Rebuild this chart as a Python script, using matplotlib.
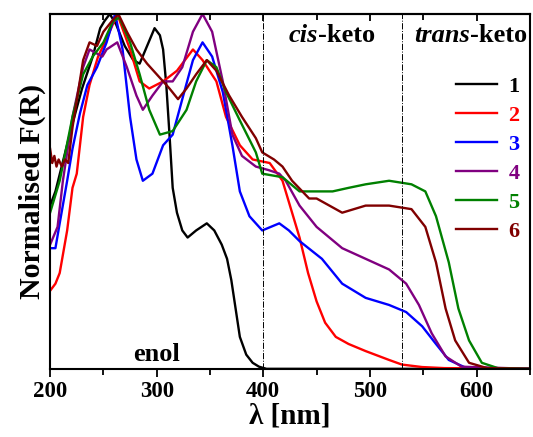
import matplotlib
matplotlib.use("Agg")
import matplotlib.pyplot as plt
from matplotlib.ticker import MultipleLocator

plt.rcParams['font.family'] = ['Liberation Serif', 'DejaVu Serif']
plt.rcParams['font.weight'] = 'bold'

# wavelength / normalised F(R)
wl1 = [200, 205, 210, 220, 230, 240, 247, 251, 256, 262, 270, 278, 284, 291, 298, 303, 306, 309, 312, 315,
       319, 324, 329, 337, 347, 354, 361, 366, 370, 374, 378, 384, 390, 396, 403, 650]
f1 = [0.46, 0.50, 0.56, 0.68, 0.79, 0.88, 0.96, 0.98, 1.00, 0.97, 0.91, 0.87, 0.86, 0.91, 0.96, 0.94, 0.90,
      0.80, 0.66, 0.51, 0.44, 0.39, 0.37, 0.39, 0.41, 0.39, 0.35, 0.31, 0.25, 0.17, 0.09, 0.04, 0.017, 0.006, 0.0, 0.0]

wl2 = [200, 205, 209, 216, 221, 225, 231, 237, 245, 253, 263, 275, 284, 293, 306, 319, 334, 343, 356, 365,
       378, 390, 406, 418, 426, 434, 442, 450, 458, 468, 480, 496, 518, 530, 549, 570, 650]
f2 = [0.22, 0.24, 0.27, 0.39, 0.51, 0.55, 0.71, 0.80, 0.88, 0.93, 1.00, 0.90, 0.81, 0.79, 0.81, 0.84, 0.90,
      0.87, 0.81, 0.71, 0.63, 0.59, 0.58, 0.53, 0.45, 0.37, 0.27, 0.19, 0.13, 0.09, 0.07, 0.05, 0.025, 0.012,
      0.005, 0.002, 0.0]

wl3 = [200, 205, 209, 216, 221, 228, 235, 244, 253, 261, 268, 275, 281, 287, 296, 306, 315, 324, 334, 343,
       352, 362, 371, 378, 387, 396, 399, 407, 415, 424, 434, 455, 474, 496, 518, 534, 549, 562, 574, 590, 650]
f3 = [0.34, 0.34, 0.41, 0.53, 0.62, 0.72, 0.80, 0.85, 0.92, 1.00, 0.90, 0.71, 0.59, 0.53, 0.55, 0.63, 0.66,
      0.76, 0.87, 0.92, 0.88, 0.78, 0.63, 0.50, 0.43, 0.40, 0.39, 0.40, 0.41, 0.39, 0.36, 0.31, 0.24, 0.20,
      0.18, 0.16, 0.12, 0.07, 0.025, 0.003, 0.0]

wl4 = [200, 207, 212, 221, 231, 237, 243, 249, 253, 263, 272, 281, 287, 296, 306, 315, 324, 334, 343, 352,
       362, 371, 380, 393, 405, 415, 421, 434, 450, 474, 496, 518, 534, 546, 558, 571, 586, 650]
f4 = [0.35, 0.40, 0.53, 0.71, 0.85, 0.90, 0.89, 0.88, 0.90, 0.92, 0.85, 0.77, 0.73, 0.77, 0.81, 0.81, 0.85,
      0.95, 1.00, 0.95, 0.81, 0.66, 0.60, 0.57, 0.56, 0.55, 0.53, 0.46, 0.40, 0.34, 0.31, 0.28, 0.24, 0.18,
      0.10, 0.035, 0.006, 0.0]

wl5 = [200, 209, 221, 231, 240, 250, 259, 265, 275, 284, 293, 303, 315, 328, 337, 347, 356, 365, 378, 393,
       399, 418, 434, 450, 465, 480, 496, 518, 539, 552, 562, 574, 583, 593, 605, 620, 650]
f5 = [0.44, 0.53, 0.71, 0.83, 0.88, 0.92, 0.98, 0.99, 0.92, 0.83, 0.73, 0.66, 0.67, 0.73, 0.81, 0.87, 0.85,
      0.78, 0.70, 0.61, 0.55, 0.54, 0.50, 0.50, 0.50, 0.51, 0.52, 0.53, 0.52, 0.50, 0.43, 0.30, 0.17, 0.08,
      0.017, 0.002, 0.0]

wl6 = [200, 202, 204, 206, 208, 211, 214, 217, 221, 231, 237, 244, 250, 258, 264, 272, 281, 291, 303, 312,
       320, 328, 337, 347, 356, 368, 380, 393, 399, 410, 418, 427, 443, 450, 474, 496, 518, 539, 552, 562,
       571, 580, 593, 610, 650]
f6 = [0.62, 0.58, 0.60, 0.57, 0.59, 0.57, 0.59, 0.58, 0.68, 0.87, 0.92, 0.91, 0.95, 0.98, 1.00, 0.95, 0.90,
      0.86, 0.82, 0.79, 0.76, 0.79, 0.83, 0.87, 0.84, 0.77, 0.71, 0.65, 0.61, 0.59, 0.57, 0.53, 0.48, 0.48,
      0.44, 0.46, 0.46, 0.45, 0.40, 0.30, 0.17, 0.08, 0.017, 0.002, 0.0]

series = [(wl1, f1, '1', 'black'), (wl2, f2, '2', 'red'), (wl3, f3, '3', 'blue'),
          (wl4, f4, '4', 'purple'), (wl5, f5, '5', 'green'), (wl6, f6, '6', 'maroon')]

fig = plt.figure(figsize=(5.33, 4.37), dpi=100)
ax = fig.add_axes([0.094, 0.156, 0.9, 0.812])

for wl, f, lab, col in series:
    ax.plot(wl, f, color=col, lw=1.7, label=lab)

for xv in (400, 530):
    ax.axvline(xv, color='black', lw=0.7, ls='-.')

ax.set_xlim(200, 650)
ax.set_ylim(0, 1.0)
ax.set_yticks([])
ax.xaxis.set_major_locator(MultipleLocator(100))
ax.xaxis.set_minor_locator(MultipleLocator(50))
ax.tick_params(axis='x', which='both', direction='out', width=1.3, labelsize=16.5, pad=3)
ax.tick_params(axis='x', which='major', length=6)
ax.tick_params(axis='x', which='minor', length=4)
for t in ax.get_xticklabels():
    t.set_fontweight('bold')
for s in ax.spines.values():
    s.set_linewidth(1.5)

top = ax.secondary_xaxis('top')
top.xaxis.set_major_locator(MultipleLocator(100))
top.xaxis.set_minor_locator(MultipleLocator(50))
top.tick_params(which='both', direction='in', width=1.3, labeltop=False)
top.tick_params(which='major', length=5)
top.tick_params(which='minor', length=4)
top.spines['top'].set_linewidth(1.5)

ax.set_xlabel('λ [nm]', fontsize=21, fontweight='bold', labelpad=0)
ax.set_ylabel('Normalised F(R)', fontsize=21.5, fontweight='bold', labelpad=3)

ax.text(451, 0.94, 'cis', fontsize=19, fontstyle='italic', fontweight='bold', ha='right', va='center')
ax.text(451, 0.94, '-keto', fontsize=19, fontweight='bold', ha='left', va='center')
ax.text(594, 0.94, 'trans', fontsize=19, fontstyle='italic', fontweight='bold', ha='right', va='center')
ax.text(594, 0.94, '-keto', fontsize=19, fontweight='bold', ha='left', va='center')
ax.text(300, 0.04, 'enol', fontsize=19, fontweight='bold', ha='center', va='center')

leg = ax.legend(loc='upper right', bbox_to_anchor=(1.02, 0.88), frameon=False, fontsize=16,
                handlelength=1.85, handletextpad=0.5, labelspacing=0.38)
for txt, (_, _, _, col) in zip(leg.get_texts(), series):
    txt.set_color(col)
    txt.set_fontweight('bold')

fig.savefig('out.png', dpi=100)
